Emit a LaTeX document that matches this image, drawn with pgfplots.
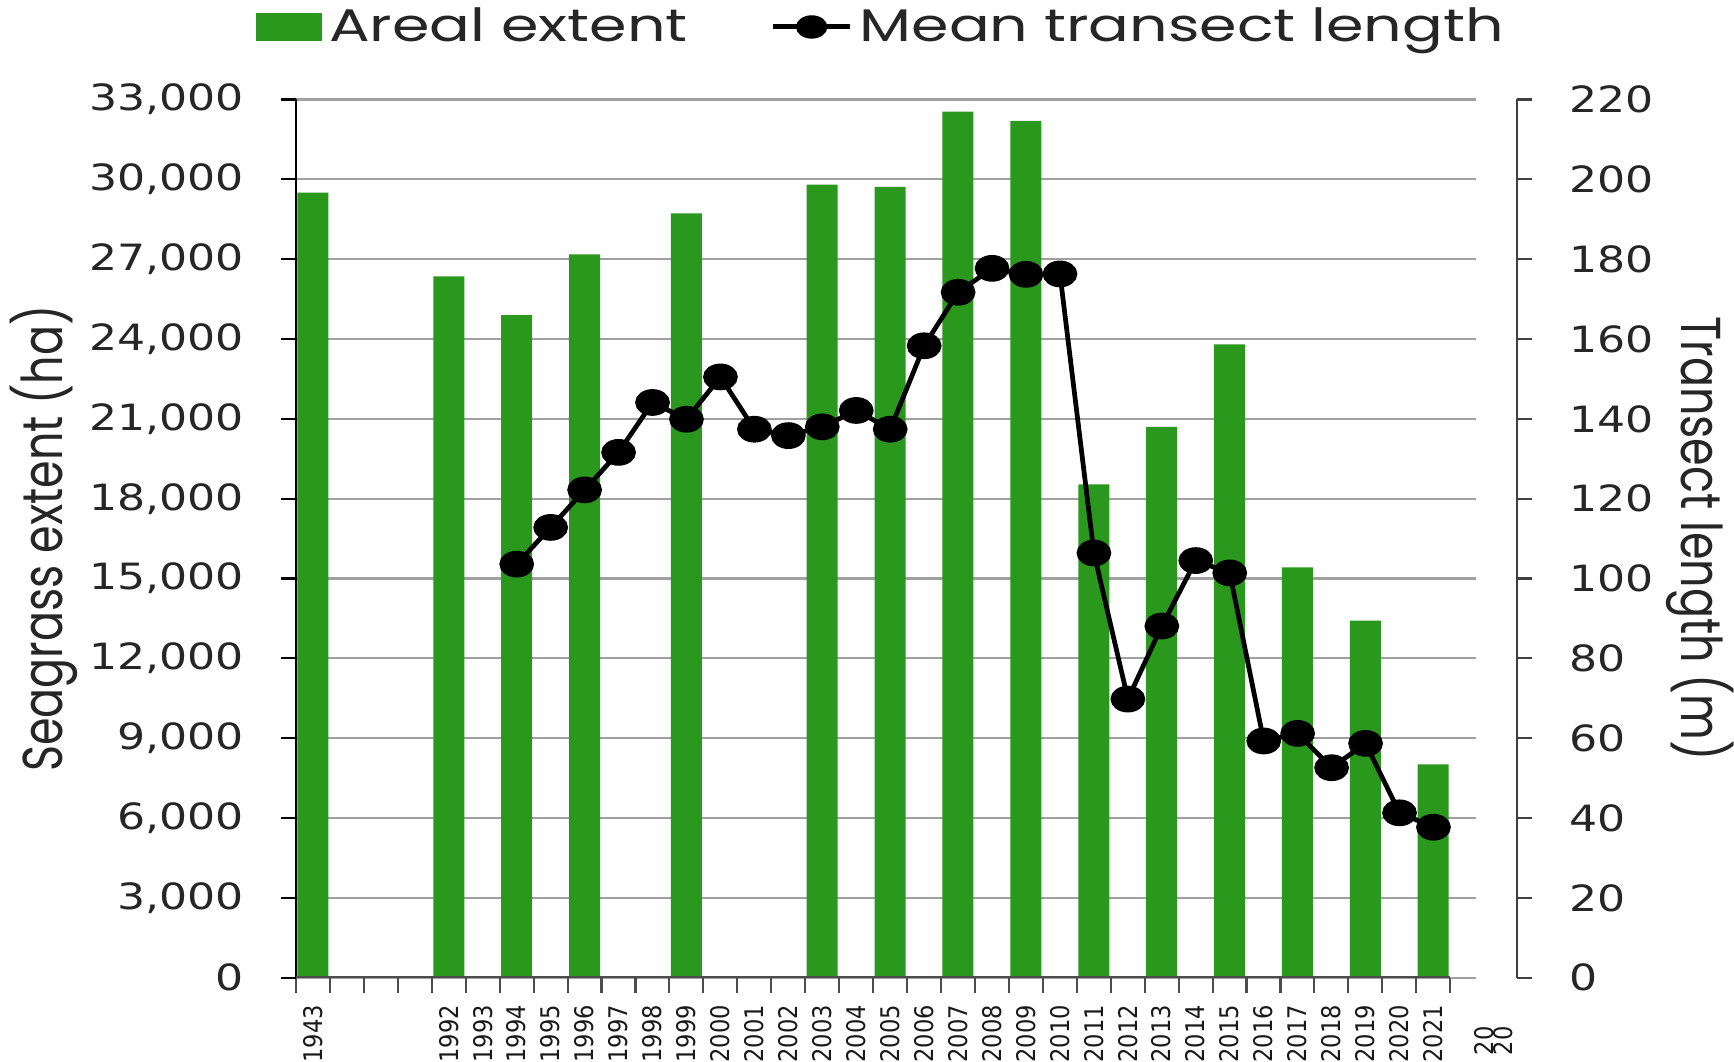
\documentclass[border=0pt]{standalone}
\usepackage{fontspec}
\setmainfont{DejaVu Sans}
\newfontfamily\mytickfont{DejaVu Sans}[FakeStretch=1.22]
\newfontfamily\myxfont{DejaVu Sans}[FakeStretch=0.88]
\newfontfamily\mylegfont{Poppins}[FakeStretch=1.32]
\newfontfamily\mytitfont{Poppins}[FakeStretch=0.79]
\usepackage{pgfplots}
\usepackage{pgfplotstable}
\pgfplotsset{compat=1.18}
\definecolor{barg}{RGB}{42,152,28}
\definecolor{gridg}{RGB}{160,160,160}

\pgfplotstableread{
x y
0 29500
4 26350
6 24900
8 27180
11 28720
15 29800
17 29720
19 32540
21 32200
23 18540
25 20700
27 23800
29 15420
31 13420
33 8020
}\areal

\pgfplotstableread{
x y
6 103.6
7 112.8
8 122.2
9 131.6
10 144.1
11 139.9
12 150.5
13 137.4
14 135.8
15 138.0
16 142.1
17 137.4
18 158.3
19 171.7
20 177.7
21 176.2
22 176.3
23 106.4
24 69.8
25 88.1
26 104.5
27 101.4
28 59.3
29 61.2
30 52.6
31 58.7
32 41.3
33 37.7
}\transect

\begin{document}
\begin{tikzpicture}
\useasboundingbox (-29.6mm,-8.43mm) rectangle (143.8mm,97.77mm);
\begin{axis}[
  scale only axis, width=118mm, height=87.82mm,
  xmin=-0.5, xmax=34.26, ymin=0, ymax=33000,
  axis y line*=left, axis x line*=bottom,
  x axis line style={draw=none},
  y axis line style={black, line width=0.6pt},
  tick align=outside, major tick length=1.5mm,
  scaled y ticks=false,
  ytick={0,3000,...,33000},
  yticklabels={0,{3,000},{6,000},{9,000},{12,000},{15,000},{18,000},{21,000},{24,000},{27,000},{30,000},{33,000}},
  yticklabel style={font=\mytickfont\fontsize{10.3}{12}\selectfont, text=black!85, xshift=-2.5mm},
  ytick style={black, line width=0.6pt},
  ymajorgrids, grid style={gridg, line width=0.6pt},
  xtick={-0.5,0.5,...,33.5},
  x tick label as interval,
  xticklabels={1943,{},{},{},1992,1993,1994,1995,1996,1997,1998,1999,2000,2001,2002,2003,2004,2005,2006,2007,2008,2009,2010,2011,2012,2013,2014,2015,2016,2017,2018,2019,2020,2021},
  xticklabel style={rotate=90, anchor=east, font=\myxfont\fontsize{7.3}{8}\selectfont, text=black!90},
  xtick style={black!70, line width=0.6pt},
  ylabel={Seagrass extent (ha)},
  ylabel style={at={(axis description cs:-0.2136,0.5)}, anchor=center, font=\mytitfont\fontsize{16}{18}\selectfont, text=black!85},
  legend style={at={(axis description cs:0.498,1.0826)}, anchor=center, draw=none, fill=none,
    font=\mylegfont\fontsize{13}{15}\selectfont, text=black!85,
    /tikz/every even column/.append style={column sep=7.6mm}},
  legend columns=2, legend cell align=left,
]
\addplot[ybar, bar width=3.1mm, fill=barg, draw=none,
  legend image code/.code={\fill[barg] (0mm,-1.4mm) rectangle (6.6mm,1.4mm);}]
  table[x=x, y=y] {\areal};
\addlegendentry{Areal extent}
\addlegendimage{legend image code/.code={\draw[black, line width=1.4pt] (0mm,0mm) -- (7.7mm,0mm); \fill[black] (3.85mm,0mm) ellipse (1.5mm and 1.1mm);}}
\addlegendentry{Mean transect length}
\draw[black!70, line width=1.1pt] (axis cs:-0.5,0) -- (axis cs:33.5,0);
\end{axis}
\begin{axis}[
  scale only axis, width=122.1mm, height=87.82mm,
  xmin=-0.5, xmax=35.46, ymin=0, ymax=220,
  axis x line=none, axis y line*=right,
  y axis line style={black!75, line width=0.6pt},
  scaled y ticks=false,
  ytick={0,20,...,220},
  tick align=outside, major tick length=1.5mm,
  ytick style={black!75, line width=0.6pt},
  /pgf/number format/assume math mode=true,
  yticklabel style={font=\mytickfont\fontsize{10.3}{12}\selectfont, text=black!85, xshift=2.5mm},
  ylabel={Transect length (m)},
  ylabel style={at={(axis description cs:1.1499,0.5)}, anchor=center, rotate=180, font=\mytitfont\fontsize{16}{18}\selectfont, text=black!85},
  clip=false,
]
\addplot[black, line width=1.35pt, mark=*, mark size=1.1mm, mark options={xscale=1.36}]
  table[x=x, y=y] {\transect};
\node[rotate=90, anchor=west, font=\myxfont\fontsize{7.3}{8}\selectfont, text=black!90] at (axis cs:34.48,-22.5) {20};
\node[rotate=90, anchor=west, font=\myxfont\fontsize{7.3}{8}\selectfont, text=black!90] at (axis cs:35.04,-22.5) {20};
\end{axis}
\end{tikzpicture}
\end{document}
